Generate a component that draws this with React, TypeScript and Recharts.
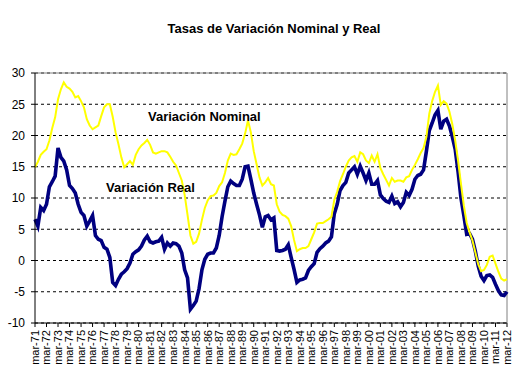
import React from 'react';
import { LineChart, Line, XAxis, YAxis, CartesianGrid, ReferenceLine } from 'recharts';

const yearLabels = [
  'mar-71', 'mar-72', 'mar-73', 'mar-74', 'mar-75', 'mar-76', 'mar-77', 'mar-78', 'mar-79', 'mar-80',
  'mar-81', 'mar-82', 'mar-83', 'mar-84', 'mar-85', 'mar-86', 'mar-87', 'mar-88', 'mar-89', 'mar-90',
  'mar-91', 'mar-92', 'mar-93', 'mar-94', 'mar-95', 'mar-96', 'mar-97', 'mar-98', 'mar-99', 'mar-00',
  'mar-01', 'mar-02', 'mar-03', 'mar-04', 'mar-05', 'mar-06', 'mar-07', 'mar-08', 'mar-09', 'mar-10',
  'mar-11', 'mar-12',
];

// Quarterly readings, mar-71 .. mar-12
const nominal = [
  14.9, 15.8, 16.9, 17.4, 17.8, 19.2, 21.2, 22.9, 25.8, 27.4, 28.5, 27.8, 27.5, 27.0, 26.1, 26.3,
  25.5, 24.5, 22.6, 21.6, 21.0, 21.3, 21.6, 23.1, 24.5, 25.0, 25.0, 23.0, 20.5, 18.6, 16.5, 14.9,
  15.4, 15.9, 15.3, 16.9, 17.8, 18.4, 18.8, 19.3, 18.5, 17.3, 17.1, 17.3, 17.5, 17.5, 17.3, 16.6,
  15.8,
  15.2, 14.0, 12.8, 10.5, 7.3, 4.0, 2.7, 3.0, 4.3, 6.5, 8.4, 9.6, 10.3, 10.4, 10.8, 11.9,
  12.5, 14.0, 16.0, 17.1, 16.9, 17.0, 17.8, 18.7, 20.3, 22.4, 20.5, 17.5, 15.4, 13.3, 12.0, 12.5,
  13.2, 12.2, 12.0, 9.0, 7.8, 7.3, 7.1, 6.7, 5.5, 3.3, 1.5, 1.8, 2.0, 2.0, 2.3, 3.4,
  4.5, 5.9, 6.0, 6.0, 6.3, 6.6, 7.0, 9.7, 11.0, 12.7, 13.8, 15.0, 16.0, 16.5, 16.7, 15.8,
  17.3, 17.0, 16.0, 15.6, 16.8, 15.8, 17.0, 14.8, 13.8, 12.9, 12.0, 13.2, 12.6, 12.8, 12.8, 12.6,
  13.3, 13.5, 14.5, 15.3, 16.2, 17.2, 18.0, 19.8, 23.5, 25.5, 27.0, 28.0, 24.9, 25.5, 25.1, 23.8,
  21.8, 19.2, 16.0, 12.3, 8.8, 6.0, 4.5, 3.2, 1.3, -0.6, -1.7, -1.5, -0.7, 0.6, 0.8, -0.5,
  -1.8, -2.9, -3.2, -3.0,
];

const real = [
  6.6, 5.5, 8.5, 8.0, 9.0, 11.8, 12.6, 13.5, 18.0, 16.5, 15.9, 14.5, 12.0, 11.5, 10.8, 9.0,
  7.7, 7.2, 5.5, 6.3, 7.2, 4.0, 3.4, 3.2, 2.1, 1.8, 0.5, -3.5, -4.0, -3.0, -2.2, -1.8,
  -1.3, -0.4, 1.0, 1.4, 1.7, 2.3, 3.3, 3.9, 3.0, 2.8, 3.0, 3.1, 3.7, 1.8, 2.8, 2.3,
  2.8,
  2.7, 2.3, 1.2, -1.5, -2.8, -7.8, -7.2, -6.5, -4.5, -1.5, 0.2, 1.0, 1.2, 1.2, 2.0, 4.0,
  7.0, 9.5, 11.8, 12.7, 12.3, 12.0, 12.0, 13.0, 15.0, 15.1, 13.0, 10.8, 9.0, 7.3, 5.3, 7.0,
  7.2, 6.5, 6.8, 1.6, 1.5, 1.6, 1.8, 2.5, 0.5, -1.4, -3.5, -3.1, -3.0, -2.8, -1.6, -1.0,
  -0.5, 1.3, 1.9, 2.3, 2.8, 3.1, 3.8, 7.5, 9.0, 11.2, 12.0, 12.5, 14.0, 14.5, 15.0, 13.8,
  15.1, 14.0, 12.8, 14.0, 12.2, 12.2, 12.8, 10.5, 9.9, 9.5, 9.3, 10.3, 9.1, 9.4, 8.6, 9.3,
  10.9, 10.4, 11.4, 13.0, 13.6, 13.8, 14.5, 17.5, 20.8, 22.0, 23.3, 24.0, 21.0, 22.3, 22.6, 21.5,
  19.8, 17.8, 14.2, 10.0, 7.2, 4.2, 4.3, 3.4, 1.5, -0.9, -2.5, -3.2, -2.4, -2.3, -2.7, -3.8,
  -4.8, -5.5, -5.6, -5.0,
];

const yTicks = [-10, -5, 0, 5, 10, 15, 20, 25, 30];
const title = 'Tasas de Variación Nominal y Real';
const labelNominal = 'Variación Nominal';
const labelReal = 'Variación Real';

const data = nominal.map((v, i) => ({ t: i / 4, nominal: v, real: real[i] }));
const xTicks = yearLabels.map((_, i) => i);

const FONT = '"Liberation Sans", Arial, sans-serif';

const XTick = (props: any) => {
  const { x, y, payload } = props;
  const yy = y + 1;
  return (
    <text
      x={x}
      y={yy}
      dy="0.35em"
      transform={`rotate(-90, ${x}, ${yy})`}
      textAnchor="end"
      fontSize={11}
      fontFamily={FONT}
      fill="#000"
    >
      {yearLabels[payload.value]}
    </text>
  );
};

export default function App() {
  return (
    <div style={{ position: 'absolute', left: 0, top: 0, width: 517, height: 370, background: '#fff' }}>
      <LineChart
        width={517}
        height={370}
        data={data}
        margin={{ top: 73, right: 10, bottom: 0, left: 0 }}
      >
        <CartesianGrid vertical={false} stroke="#000" strokeDasharray="3 3" />
        <XAxis
          dataKey="t"
          type="number"
          domain={[0, 41]}
          ticks={xTicks}
          interval={0}
          height={47}
          tickSize={4}
          tickMargin={2}
          axisLine={{ stroke: '#000' }}
          tickLine={{ stroke: '#000' }}
          tick={<XTick />}
        />
        <YAxis
          type="number"
          domain={[-10, 30]}
          ticks={yTicks}
          interval={0}
          width={35}
          tickSize={4}
          tickMargin={6}
          axisLine={{ stroke: '#000' }}
          tickLine={{ stroke: '#000' }}
          tick={{ fill: '#000', fontSize: 12, fontFamily: FONT }}
        />
        <ReferenceLine y={30} stroke="#808080" strokeWidth={1} />
        <ReferenceLine x={41} stroke="#808080" strokeWidth={1} />
        <Line
          type="linear"
          dataKey="real"
          stroke="#000080"
          strokeWidth={3.6}
          dot={false}
          isAnimationActive={false}
        />
        <Line
          type="linear"
          dataKey="nominal"
          stroke="#FFFF00"
          strokeWidth={2}
          dot={false}
          isAnimationActive={false}
        />
      </LineChart>
      <svg
        width={517}
        height={370}
        style={{ position: 'absolute', left: 0, top: 0, pointerEvents: 'none' }}
      >
        <text x={274} y={33} textAnchor="middle" fontSize={13} fontWeight="bold" fontFamily={FONT} fill="#000">
          {title}
        </text>
        <text x={148} y={121} fontSize={13} fontWeight="bold" fontFamily={FONT} fill="#000">
          {labelNominal}
        </text>
        <text x={106} y={192} fontSize={13} fontWeight="bold" fontFamily={FONT} fill="#000">
          {labelReal}
        </text>
      </svg>
    </div>
  );
}
